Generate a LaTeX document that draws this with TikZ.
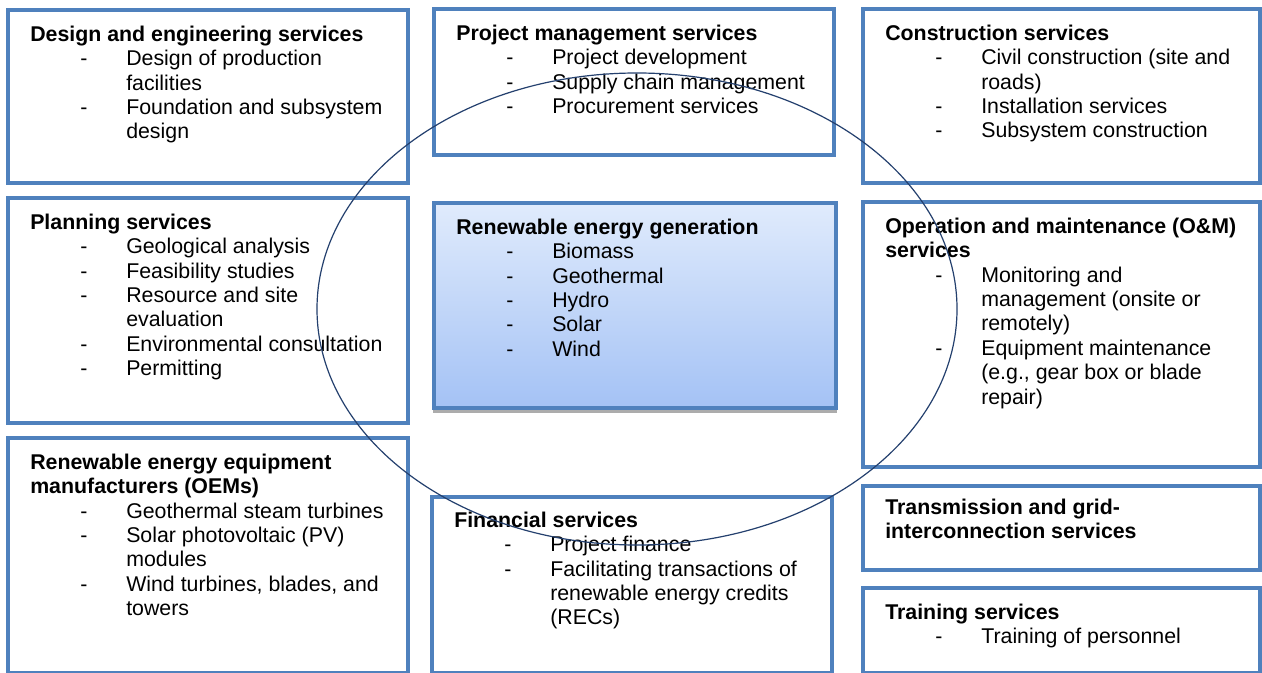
\documentclass[tikz,border=0pt]{standalone}
\usepackage{fontspec}
\setmainfont{Liberation Sans}
\definecolor{boxblue}{RGB}{79,129,189}
\definecolor{ringblue}{RGB}{36,64,110}
\definecolor{gentop}{RGB}{224,235,252}
\definecolor{genbot}{RGB}{164,194,245}
\newcommand{\hd}[1]{\rule{0pt}{12pt}\textbf{#1}}
\newcommand{\bul}[1]{\hspace*{37.5pt}\makebox[34.5pt][l]{-}#1}
\newcommand{\cont}[1]{\hspace*{72pt}#1}
\tikzset{
  svcbox/.style={draw=boxblue, line width=2.4pt, fill=white},
  txt/.style={anchor=north west, inner sep=0pt, align=left, font=\fontsize{16pt}{18.3pt}\selectfont},
  ring/.style={draw=ringblue, line width=0.9pt}
}
\begin{document}
\begin{tikzpicture}[x=0.75pt,y=-0.75pt]
\useasboundingbox (0,0) rectangle (1262,673);
% boxes
\draw[svcbox] (8,10) rectangle (408,183);
\draw[svcbox] (8,198) rectangle (408,423);
\draw[svcbox] (8,438) rectangle (408,673);
\draw[svcbox] (434,9) rectangle (834,155);
\fill[gray!65] (433,408) rectangle (837,413);
\draw[draw=boxblue, line width=2.4pt, top color=gentop, bottom color=genbot] (434,203) rectangle (836,408);
\draw[svcbox] (432,497) rectangle (832,673);
\draw[svcbox] (863,9) rectangle (1260,183);
\draw[svcbox] (863,202) rectangle (1260,467);
\draw[svcbox] (863,486) rectangle (1260,570);
\draw[svcbox] (863,588) rectangle (1260,673);
% texts
\node[txt] (tdesign) at (30,25) {\hd{Design and engineering services}\\
  \bul{Design of production}\\ \cont{facilities}\\
  \bul{Foundation and subsystem}\\ \cont{design}};
\node[txt] (tplan) at (30,213) {\hd{Planning services}\\
  \bul{Geological analysis}\\ \bul{Feasibility studies}\\
  \bul{Resource and site}\\ \cont{evaluation}\\
  \bul{Environmental consultation}\\ \bul{Permitting}};
\node[txt] (toem) at (30,453) {\hd{Renewable energy equipment}\\ \textbf{manufacturers (OEMs)}\\
  \bul{Geothermal steam turbines}\\ \bul{Solar photovoltaic (PV)}\\ \cont{modules}\\
  \bul{Wind turbines, blades, and}\\ \cont{towers}};
\node[txt] (tproj) at (456,24) {\hd{Project management services}\\
  \bul{Project development}\\ \bul{Supply chain management}\\ \bul{Procurement services}};
\node[txt] (tgen) at (456,218) {\hd{Renewable energy generation}\\
  \bul{Biomass}\\ \bul{Geothermal}\\ \bul{Hydro}\\ \bul{Solar}\\ \bul{Wind}};
\node[txt] (tfin) at (454,511) {\hd{Financial services}\\
  \bul{Project finance}\\ \bul{Facilitating transactions of}\\
  \cont{renewable energy credits}\\ \cont{(RECs)}};
\node[txt] (tcons) at (885,24) {\hd{Construction services}\\
  \bul{Civil construction (site and}\\ \cont{roads)}\\
  \bul{Installation services}\\ \bul{Subsystem construction}};
\node[txt] (tom) at (885,217) {\hd{Operation and maintenance (O\&M)}\\ \textbf{services}\\
  \bul{Monitoring and}\\ \cont{management (onsite or}\\ \cont{remotely)}\\
  \bul{Equipment maintenance}\\ \cont{(e.g., gear box or blade}\\ \cont{repair)}};
\node[txt] (ttrans) at (885,498) {\hd{Transmission and grid-}\\ \textbf{interconnection services}};
\node[txt] (ttrain) at (885,603) {\hd{Training services}\\ \bul{Training of personnel}};
% ellipse
\draw[ring] (637,309) ellipse [x radius=240pt, y radius=177pt];
\end{tikzpicture}
\end{document}
